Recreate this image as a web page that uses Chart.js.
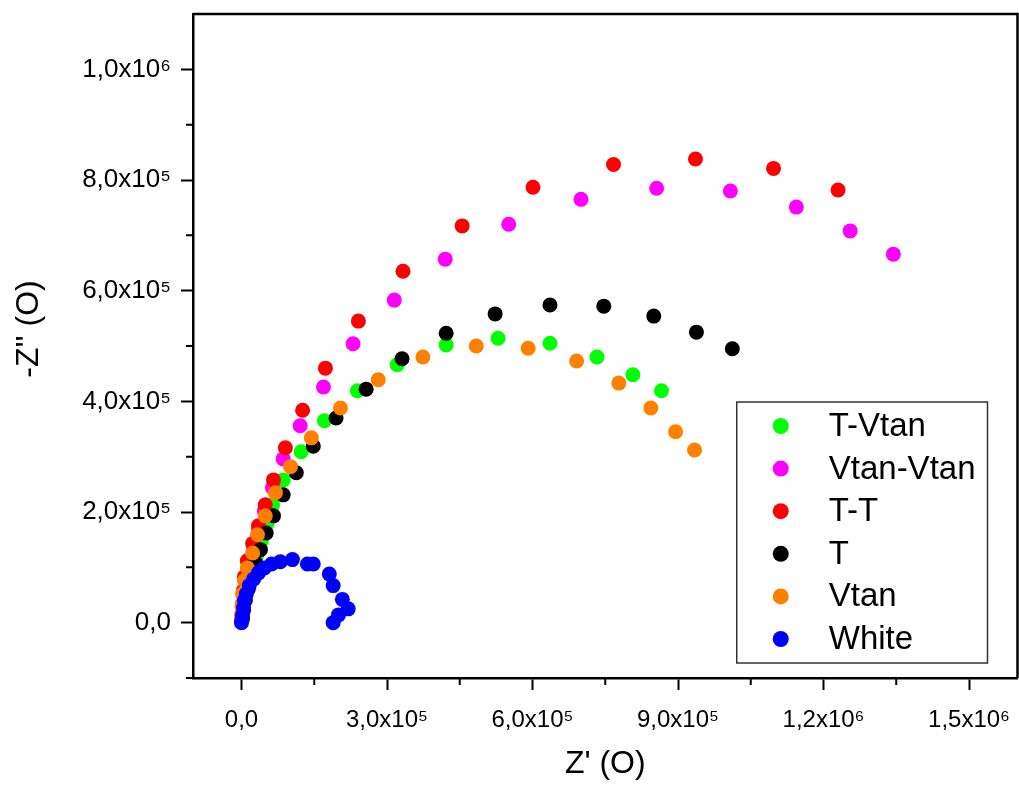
<!DOCTYPE html>
<html>
<head>
<meta charset="utf-8">
<script src="https://cdn.jsdelivr.net/npm/chart.js@4.4.1/dist/chart.umd.min.js"></script>
<style>
  html, body { margin: 0; padding: 0; background: #fff; overflow: hidden; }
  #wrap { position: relative; width: 1025px; height: 785px; }
  #c { display: block; }
</style>
</head>
<body>
<div id="wrap"><canvas id="c"></canvas></div>
<script>
// ---- Data ----
const seriesNames = ["T-Vtan", "Vtan-Vtan", "T-T", "T", "Vtan", "White"];
const seriesColors = ["#00ff00", "#ff00ff", "#ff0000", "#000000", "#ff8000", "#0000ff"];

const tVtanX = [2000, 4000, 8000, 14000, 23000, 31000, 41000, 53000, 64000, 86000, 123000, 171000, 239000, 321000, 422000, 529000, 636000, 733000, 807000, 866000];
const tVtanY = [11000, 27000, 49000, 72000, 97000, 121000, 148000, 179000, 213000, 258000, 309000, 365000, 419000, 466000, 502000, 514000, 505000, 480000, 448000, 419000];

const vtanVtanX = [1000, 2000, 6000, 10000, 16000, 25000, 35000, 47000, 64000, 86000, 121000, 169000, 230000, 315000, 420000, 551000, 700000, 856000, 1008000, 1144000, 1255000, 1344000];
const vtanVtanY = [11000, 29000, 51000, 76000, 103000, 134000, 166000, 202000, 244000, 296000, 356000, 426000, 504000, 583000, 657000, 720000, 765000, 785000, 780000, 751000, 708000, 666000];

const ttX = [0, 1000, 2000, 4000, 6000, 12000, 23000, 35000, 49000, 66000, 90500, 126000, 173000, 241000, 333000, 455000, 601000, 767000, 936000, 1097000, 1230000];
const ttY = [4000, 16000, 34000, 58000, 83000, 112000, 143000, 175000, 213000, 258000, 316000, 384000, 460000, 545000, 635000, 717000, 787000, 828000, 838000, 821000, 782000];

const tX = [2000, 4000, 8000, 14000, 20000, 29000, 39000, 51000, 66000, 86000, 113000, 148000, 195000, 257000, 331000, 422000, 523000, 636000, 747000, 850000, 938000, 1012000];
const tY = [7000, 22000, 40000, 61000, 85000, 108000, 132000, 162000, 193000, 231000, 271000, 319000, 370000, 422000, 477000, 523000, 558000, 574000, 572000, 554000, 525000, 495000];

const vtanX = [0, 1000, 2000, 6000, 12000, 23000, 33000, 49000, 70000, 101000, 144000, 204000, 282000, 374000, 484000, 591000, 691000, 778000, 844000, 895000, 934000];
const vtanY = [13000, 31000, 52000, 76000, 99000, 126000, 159000, 193000, 235000, 282000, 334000, 388000, 439000, 480000, 500000, 496000, 473000, 433000, 388000, 345000, 312000];

const whiteX = [0, 2000, 4000, 6000, 10000, 16000, 25000, 35000, 47000, 62000, 80000, 105000, 136000, 148000, 181000, 189000, 208000, 220000, 200000, 189000];
const whiteY = [0, 13000, 27000, 40000, 52000, 67000, 79000, 90000, 99000, 106000, 110000, 114000, 106000, 106000, 88000, 67000, 42000, 25000, 14000, 0];

const xMajorTicks = [0, 300000, 600000, 900000, 1200000, 1500000];
const xMinorTicks = [150000, 450000, 750000, 1050000, 1350000];
const yMajorTicks = [0, 200000, 400000, 600000, 800000, 1000000];
const yMinorTicks = [-100000, 100000, 300000, 500000, 700000, 900000];

const xTitle = "Z' (O)";
const yTitle = "-Z'' (O)";

// ---- helpers ----
const FONT = "'Liberation Sans', Arial, Helvetica, sans-serif";
const SUP = {"0":"⁰","1":"¹","2":"²","3":"³","4":"⁴","5":"⁵","6":"⁶","7":"⁷","8":"⁸","9":"⁹"};
function sciLabel(v) {
  if (v === 0) return "0,0";
  const e = Math.floor(Math.log10(Math.abs(v)) + 1e-9);
  const m = (v / Math.pow(10, e)).toFixed(1).replace(".", ",");
  return m + "x10" + String(e).split("").map(c => SUP[c] || c).join("");
}
function toPoints(xs, ys) { return xs.map((x, i) => ({ x: x, y: ys[i] })); }

const allX = [tVtanX, vtanVtanX, ttX, tX, vtanX, whiteX];
const allY = [tVtanY, vtanVtanY, ttY, tY, vtanY, whiteY];

const datasets = seriesNames.map((name, i) => ({
  label: name,
  data: toPoints(allX[i], allY[i]),
  backgroundColor: seriesColors[i],
  borderColor: seriesColors[i],
  borderWidth: 0,
  pointRadius: 7.5,
  pointHoverRadius: 7.5,
  showLine: false,
  order: seriesNames.length - i
}));

// frame, minor ticks, y title and in-plot legend
const framePlugin = {
  id: 'framePlugin',
  afterDraw(chart) {
    const ctx = chart.ctx;
    const a = chart.chartArea;
    const xs = chart.scales.x, ys = chart.scales.y;
    ctx.save();
    ctx.strokeStyle = '#000';
    ctx.lineWidth = 2.5;
    ctx.beginPath();
    ctx.moveTo(a.left, a.top); ctx.lineTo(a.right, a.top); ctx.lineTo(a.right, a.bottom);
    ctx.stroke();
    // minor ticks
    ctx.lineWidth = 2;
    ctx.beginPath();
    xMinorTicks.forEach(v => {
      const px = xs.getPixelForValue(v);
      ctx.moveTo(px, a.bottom); ctx.lineTo(px, a.bottom + 7);
    });
    yMinorTicks.forEach(v => {
      const py = ys.getPixelForValue(v);
      ctx.moveTo(a.left, py); ctx.lineTo(a.left - 7, py);
    });
    ctx.stroke();

    // y axis title
    ctx.save();
    ctx.translate(ys.left + 29, (a.top + a.bottom) / 2 - 17);
    ctx.rotate(-Math.PI / 2);
    ctx.font = "32px " + FONT;
    ctx.fillStyle = '#000';
    ctx.textAlign = 'center';
    ctx.textBaseline = 'middle';
    ctx.fillText(yTitle, 0, 0);
    ctx.restore();

    // legend
    const fs = 33;
    ctx.font = fs + "px " + FONT;
    const names = chart.data.datasets.map(d => d.label);
    const maxW = Math.max(...names.map(n => ctx.measureText(n).width));
    const markX = 44, textX = 92, rowH = 42.6, topPad = 24;
    const boxW = textX + maxW + 12;
    const boxH = topPad * 2 + rowH * (names.length - 1);
    const bx = a.right - 30 - boxW;
    const by = a.bottom - 15 - boxH;
    ctx.fillStyle = '#fff';
    ctx.fillRect(bx, by, boxW, boxH);
    ctx.strokeStyle = '#333';
    ctx.lineWidth = 1.5;
    ctx.strokeRect(bx, by, boxW, boxH);
    ctx.textBaseline = 'middle';
    ctx.textAlign = 'left';
    chart.data.datasets.forEach((d, i) => {
      const cy = by + topPad + i * rowH;
      ctx.fillStyle = d.backgroundColor;
      ctx.beginPath();
      ctx.arc(bx + markX, cy, 8, 0, Math.PI * 2);
      ctx.fill();
      ctx.fillStyle = '#000';
      ctx.fillText(d.label, bx + textX, cy + 1);
    });
    ctx.restore();
  }
};

new Chart(document.getElementById('c'), {
  type: 'scatter',
  data: { datasets: datasets },
  options: {
    responsive: true,
    maintainAspectRatio: false,
    animation: false,
    layout: { padding: { top: 14, right: 2, left: 0, bottom: 0 } },
    plugins: { legend: { display: false }, tooltip: { enabled: false } },
    scales: {
      x: {
        type: 'linear',
        position: 'bottom',
        min: -100000, max: 1600000,
        afterBuildTicks: s => { s.ticks = xMajorTicks.map(v => ({ value: v })); },
        afterFit: s => { s.height = 107; s.paddingLeft = 0; s.paddingRight = 0; },
        border: { display: true, color: '#000', width: 2.5 },
        grid: { display: true, drawOnChartArea: false, drawTicks: true, tickLength: 12, tickWidth: 2, tickColor: '#000' },
        ticks: { color: '#000', font: { family: FONT, size: 24 }, padding: 16, maxRotation: 0, autoSkip: false, callback: v => sciLabel(v) },
        title: { display: true, text: xTitle, color: '#000', font: { family: FONT, size: 32 }, padding: { top: 0, bottom: 2 } }
      },
      y: {
        type: 'linear',
        position: 'left',
        min: -100000, max: 1100000,
        afterBuildTicks: s => { s.ticks = yMajorTicks.map(v => ({ value: v })); },
        afterFit: s => { s.width = 193; s.paddingTop = 0; s.paddingBottom = 0; },
        border: { display: true, color: '#000', width: 2.5 },
        grid: { display: true, drawOnChartArea: false, drawTicks: true, tickLength: 12, tickWidth: 2, tickColor: '#000' },
        ticks: { color: '#000', font: { family: FONT, size: 26 }, padding: 10, autoSkip: false, callback: v => sciLabel(v) },
        title: { display: false }
      }
    }
  },
  plugins: [framePlugin]
});
</script>
</body>
</html>
